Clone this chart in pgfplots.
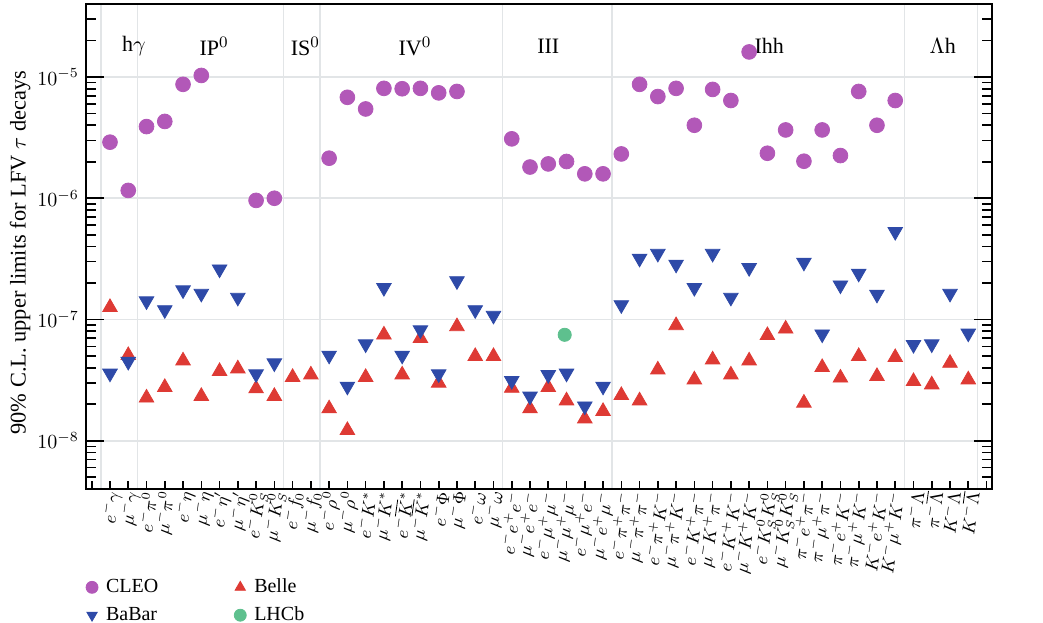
\documentclass[border=0pt]{standalone}
\usepackage{fontspec}
\setmainfont{Liberation Serif}
\usepackage{pgfplots}
\pgfplotsset{compat=1.18}
\definecolor{cleo}{RGB}{178,88,184}
\definecolor{babar}{RGB}{46,74,168}
\definecolor{belle}{RGB}{222,58,52}
\definecolor{lhcb}{RGB}{94,192,142}
\definecolor{gridc}{RGB}{226,229,231}
\begin{document}
\begin{tikzpicture}
\begin{axis}[
  set layers,
  scale only axis,
  width=453pt, height=242.5pt,
  xmin=-1.314, xmax=48.3,
  ymode=log, ymin=4e-9, ymax=4e-5,
  axis line style={line width=0.9pt},
  xtick={-1,0,...,48},
  xticklabels={{},
    {$e^-\gamma$},{$\mu^-\gamma$},
    {$e^-\pi^0$},{$\mu^-\pi^0$},{$e^-\eta$},{$\mu^-\eta$},{$e^-\eta'$},{$\mu^-\eta'$},{$e^-K_S^0$},{$\mu^-K_S^0$},
    {$e^-f_0$},{$\mu^-f_0$},
    {$e^-\rho^0$},{$\mu^-\rho^0$},{$e^-K^*$},{$\mu^-K^*$},{$e^-\overline{K}{}^*$},{$\mu^-\overline{K}{}^*$},{$e^-\Phi$},{$\mu^-\Phi$},{$e^-\omega$},{$\mu^-\omega$},
    {$e^-e^+e^-$},{$\mu^-e^+e^-$},{$e^-\mu^+\mu^-$},{$\mu^-\mu^+\mu^-$},{$e^-\mu^+e^-$},{$\mu^-e^+\mu^-$},
    {$e^-\pi^+\pi^-$},{$\mu^-\pi^+\pi^-$},{$e^-\pi^+K^-$},{$\mu^-\pi^+K^-$},{$e^-K^+\pi^-$},{$\mu^-K^+\pi^-$},{$e^-K^+K^-$},{$\mu^-K^+K^-$},
    {$e^-K_S^0K_S^0$},{$\mu^-K_S^0K_S^0$},{$\pi^-e^+\pi^-$},{$\pi^-\mu^+\pi^-$},{$\pi^-e^+K^-$},{$\pi^-\mu^+K^-$},{$K^-e^+K^-$},{$K^-\mu^+K^-$},
    {$\pi^-\Lambda$},{$\pi^-\overline{\Lambda}$},{$K^-\Lambda$},{$K^-\overline{\Lambda}$},
    {}},
  xticklabel style={rotate=82, anchor=east, font=\fontsize{9}{10}\selectfont, inner sep=1pt, yshift=-2pt},
  xtick pos=left,
  ytick pos=both,
  yticklabel pos=left,
  major tick length=9pt, minor tick length=5pt,
  xtick style={/pgfplots/major tick length=4pt},
  every tick/.style={black, line width=0.8pt},
  yticklabel style={font=\normalsize},
  ylabel={90\% C.L. upper limits for LFV $\tau$ decays},
  ylabel style={at={(axis description cs:-0.0728,0.487)}, anchor=center, font=\fontsize{11.2}{13}\selectfont},
  legend columns=2,
  legend style={draw=none, fill=none, at={(axis description cs:-0.007,-0.168)}, anchor=north west, font=\normalsize, row sep=1.5pt, /tikz/every even column/.append style={column sep=36pt}, /tikz/every odd column/.append style={column sep=2pt}},
  legend cell align=left,
  legend image code/.code={\draw[#1, mark size=3pt] plot coordinates {(0pt,0pt)};},
]
\begin{pgfonlayer}{axis background}
\draw[gridc, line width=0.8pt] (axis cs:-0.5,1e-5) -- (axis cs:47.5,1e-5);
\draw[gridc, line width=0.8pt] (axis cs:-0.5,1e-6) -- (axis cs:47.5,1e-6);
\draw[gridc, line width=0.8pt] (axis cs:-0.5,1e-7) -- (axis cs:47.5,1e-7);
\draw[gridc, line width=0.8pt] (axis cs:-0.5,1e-8) -- (axis cs:47.5,1e-8);
\draw[gridc, line width=0.8pt] (axis cs:-0.5,4e-9) -- (axis cs:-0.5,4e-5);
\draw[gridc, line width=0.8pt] (axis cs:1.5,4e-9) -- (axis cs:1.5,4e-5);
\draw[gridc, line width=0.8pt] (axis cs:9.5,4e-9) -- (axis cs:9.5,4e-5);
\draw[gridc, line width=0.8pt] (axis cs:11.5,4e-9) -- (axis cs:11.5,4e-5);
\draw[gridc, line width=0.8pt] (axis cs:21.5,4e-9) -- (axis cs:21.5,4e-5);
\draw[gridc, line width=0.8pt] (axis cs:27.5,4e-9) -- (axis cs:27.5,4e-5);
\draw[gridc, line width=0.8pt] (axis cs:43.5,4e-9) -- (axis cs:43.5,4e-5);
\draw[gridc, line width=0.8pt] (axis cs:47.5,4e-9) -- (axis cs:47.5,4e-5);
\end{pgfonlayer}

\addplot[only marks, mark=*, color=cleo, mark size=3.7pt] coordinates {
(0,2.9e-6)(1,1.16e-6)(2,3.9e-6)(3,4.3e-6)(4,8.7e-6)(5,1.03e-5)(8,9.6e-7)(9,1.0e-6)
(12,2.14e-6)(13,6.8e-6)(14,5.45e-6)(15,8.06e-6)(16,8.0e-6)(17,8.06e-6)(18,7.4e-6)(19,7.6e-6)
(22,3.09e-6)(23,1.81e-6)(24,1.92e-6)(25,2.01e-6)(26,1.59e-6)(27,1.59e-6)
(28,2.32e-6)(29,8.7e-6)(30,6.9e-6)(31,8.06e-6)(32,4.0e-6)(33,7.9e-6)(34,6.4e-6)(35,1.61e-5)
(36,2.35e-6)(37,3.66e-6)(38,2.02e-6)(39,3.66e-6)(40,2.25e-6)(41,7.6e-6)(42,4.0e-6)(43,6.4e-6)
};
\addlegendentry{CLEO}
\addplot[only marks, mark=triangle*, color=belle, mark size=4.2pt] coordinates {
(0,1.26e-7)(1,5.06e-8)(2,2.26e-8)(3,2.76e-8)(4,4.57e-8)(5,2.33e-8)(6,3.74e-8)(7,3.93e-8)(8,2.69e-8)(9,2.33e-8)
(10,3.34e-8)(11,3.5e-8)(12,1.84e-8)(13,1.22e-8)(14,3.34e-8)(15,7.48e-8)(16,3.5e-8)(17,7.0e-8)(18,3.0e-8)(19,8.76e-8)
(20,4.97e-8)(21,4.97e-8)(22,2.72e-8)(23,1.84e-8)(24,2.76e-8)(25,2.14e-8)(26,1.52e-8)(27,1.75e-8)(28,2.37e-8)(29,2.14e-8)
(30,3.85e-8)(31,8.93e-8)(32,3.19e-8)(33,4.66e-8)(34,3.5e-8)(35,4.57e-8)(36,7.4e-8)(37,8.37e-8)(38,2.05e-8)(39,4.03e-8)
(40,3.3e-8)(41,4.97e-8)(42,3.4e-8)(43,4.87e-8)(44,3.09e-8)(45,2.9e-8)(46,4.37e-8)(47,3.19e-8)
};
\addlegendentry{Belle}
\addplot[only marks, mark=triangle*, mark options={rotate=180}, color=babar, mark size=4.2pt] coordinates {
(0,3.6e-8)(1,4.5e-8)(2,1.42e-7)(3,1.2e-7)(4,1.75e-7)(5,1.64e-7)(6,2.6e-7)(7,1.52e-7)(8,3.55e-8)(9,4.37e-8)
(12,5.06e-8)(13,2.81e-8)(14,6.27e-8)(15,1.83e-7)(16,5.06e-8)(17,8.2e-8)(18,3.55e-8)(19,2.08e-7)(20,1.2e-7)(21,1.08e-7)
(22,3.13e-8)(23,2.33e-8)(24,3.5e-8)(25,3.6e-8)(26,1.93e-8)(27,2.81e-8)
(28,1.32e-7)(29,3.19e-7)(30,3.5e-7)(31,2.85e-7)(32,1.83e-7)(33,3.5e-7)(34,1.52e-7)(35,2.67e-7)
(38,2.96e-7)(39,7.57e-8)(40,1.92e-7)(41,2.4e-7)(42,1.61e-7)(43,5.3e-7)
(44,6.2e-8)(45,6.27e-8)(46,1.64e-7)(47,7.7e-8)
};
\addlegendentry{BaBar}
\addplot[only marks, mark=*, color=lhcb, mark size=3.3pt] coordinates {
(24.9,7.48e-8)
};
\addlegendentry{LHCb}

\node[font=\fontsize{11}{13}\selectfont] at (axis cs:1.31,1.8e-5) {h$\gamma$};
\node[font=\fontsize{11}{13}\selectfont] at (axis cs:5.7,1.8e-5) {IP$^0$};
\node[font=\fontsize{11}{13}\selectfont] at (axis cs:10.7,1.8e-5) {IS$^0$};
\node[font=\fontsize{11}{13}\selectfont] at (axis cs:16.7,1.8e-5) {IV$^0$};
\node[font=\fontsize{11}{13}\selectfont] at (axis cs:24.0,1.8e-5) {III};
\node[font=\fontsize{11}{13}\selectfont] at (axis cs:36.1,1.8e-5) {Ihh};
\node[font=\fontsize{11}{13}\selectfont] at (axis cs:45.6,1.8e-5) {$\Lambda$h};
\node[rotate=90, anchor=west, align=left, font=\fontsize{7.8}{8.6}\selectfont] at (axis description cs:1.0375,0.431) {HFAG-Tau\\winter 2012};
\end{axis}
\pgfresetboundingbox
\path (current axis.south west) ++(-43pt,-66.5pt) rectangle ++(521.5pt,311pt);
\end{tikzpicture}
\end{document}
